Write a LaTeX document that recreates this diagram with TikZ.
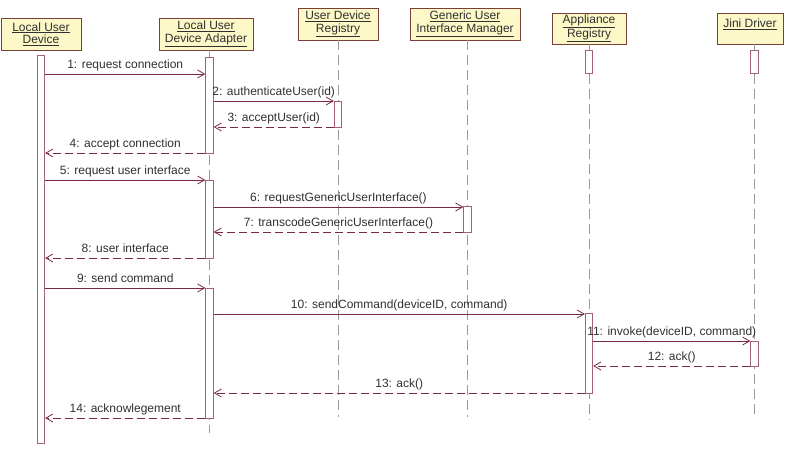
\documentclass[tikz,border=0pt]{standalone}
\usepackage{fontspec}
\setmainfont{Liberation Sans}
\usetikzlibrary{arrows.meta}
\definecolor{msgc}{HTML}{7A2848}
\definecolor{barc}{HTML}{A0607E}
\definecolor{headfill}{HTML}{FCF8C8}
\definecolor{headdraw}{HTML}{7A4038}
\definecolor{lifec}{HTML}{9A9A9A}
\definecolor{txtc}{HTML}{303030}
\tikzset{
  head/.style={draw=headdraw, fill=headfill, line width=0.8pt, inner sep=0pt, align=center,
    text=txtc, font=\fontsize{12}{12.5}\selectfont},
  actbar/.style={draw=barc, fill=white, line width=0.8pt, inner sep=0pt, minimum width=7.5pt},
  life/.style={draw=lifec, line width=0.9pt, dash pattern=on 10pt off 5pt},
  msg/.style={draw=msgc, line width=0.8pt, -{Straight Barb[length=7pt,width=8pt]}},
  ret/.style={msg, dash pattern=on 8pt off 4pt},
  lbl/.style={anchor=base, yshift=6pt, inner sep=0pt, text=txtc, font=\fontsize{12}{12.5}\selectfont}
}
\begin{document}
\begin{tikzpicture}[x=1pt,y=-1pt]
\useasboundingbox (0,0) rectangle (787,448);
% headers
\node[head, minimum width=80pt, minimum height=32pt] (hL) at (41,34) {\underline{Local User}\\\underline{Device}};
\node[head, minimum width=94pt, minimum height=32pt] (hA) at (206,34) {\underline{Local User}\\\underline{Device Adapter}};
\node[head, minimum width=80pt, minimum height=32pt] (hU) at (338,24) {\underline{User Device}\\\underline{Registry}};
\node[head, minimum width=110pt, minimum height=32pt] (hG) at (465,24) {\underline{Generic User}\\\underline{Interface Manager}};
\node[head, minimum width=74pt, minimum height=31pt] (hR) at (589,28.5) {\underline{Appliance}\\\underline{Registry}};
\node[head, minimum width=66pt, minimum height=31pt, text depth=0pt] (hJ) at (750,28.5) {\underline{Jini Driver}\\[-2pt]\strut};
% lifeline ends
\coordinate (eA) at (209.5,433);
\coordinate (eU) at (338,417);
\coordinate (eG) at (467.5,417);
\coordinate (eR) at (589,420);
\coordinate (eJ) at (754.5,417);
\draw[life] (hA.south -| eA) -- (eA);
\draw[life] (hU.south -| eU) -- (eU);
\draw[life] (hG.south -| eG) -- (eG);
\draw[life] (hR.south -| eR) -- (eR);
\draw[life] (hJ.south -| eJ) -- (eJ);
% activation bars
\node[actbar, minimum height=388pt] (L1) at (41,249) {};
\node[actbar, minimum height=96pt] (A1) at (209.5,105) {};
\node[actbar, minimum height=78pt] (A2) at (209.5,219) {};
\node[actbar, minimum height=130pt] (A3) at (209.5,353) {};
\node[actbar, minimum height=26pt] (U1) at (338,114) {};
\node[actbar, minimum height=26pt] (G1) at (467.5,219.5) {};
\node[actbar, minimum height=23pt] (R0) at (589,61.5) {};
\node[actbar, minimum height=80pt] (R1) at (589,353) {};
\node[actbar, minimum height=23pt] (J0) at (754.5,61.5) {};
\node[actbar, minimum height=25pt] (J1) at (754.5,353.5) {};
% message heights
\coordinate (y1) at (0,74);
\coordinate (y2) at (0,101);
\coordinate (y3) at (0,127);
\coordinate (y4) at (0,153);
\coordinate (y5) at (0,180);
\coordinate (y6) at (0,207);
\coordinate (y7) at (0,232);
\coordinate (y8) at (0,258);
\coordinate (y9) at (0,288);
\coordinate (y10) at (0,314);
\coordinate (y11) at (0,341);
\coordinate (y12) at (0,366);
\coordinate (y13) at (0,393);
\coordinate (y14) at (0,418);
% messages
\draw[msg] (L1.east |- y1) -- node[lbl]{1: request connection} (A1.west |- y1);
\draw[msg] (A1.east |- y2) -- node[lbl]{2: authenticateUser(id)} (U1.west |- y2);
\draw[ret] (U1.west |- y3) -- node[lbl]{3: acceptUser(id)} (A1.east |- y3);
\draw[ret] (A1.west |- y4) -- node[lbl]{4: accept connection} (L1.east |- y4);
\draw[msg] (L1.east |- y5) -- node[lbl]{5: request user interface} (A2.west |- y5);
\draw[msg] (A2.east |- y6) -- node[lbl]{6: requestGenericUserInterface()} (G1.west |- y6);
\draw[ret] (G1.west |- y7) -- node[lbl]{7: transcodeGenericUserInterface()} (A2.east |- y7);
\draw[ret] (A2.west |- y8) -- node[lbl]{8: user interface} (L1.east |- y8);
\draw[msg] (L1.east |- y9) -- node[lbl]{9: send command} (A3.west |- y9);
\draw[msg] (A3.east |- y10) -- node[lbl]{10: sendCommand(deviceID, command)} (R1.west |- y10);
\draw[msg] (R1.east |- y11) -- node[lbl]{11: invoke(deviceID, command)} (J1.west |- y11);
\draw[ret] (J1.west |- y12) -- node[lbl]{12: ack()} (R1.east |- y12);
\draw[ret] (R1.west |- y13) -- node[lbl]{13: ack()} (A3.east |- y13);
\draw[ret] (A3.west |- y14) -- node[lbl]{14: acknowlegement} (L1.east |- y14);
\end{tikzpicture}
\end{document}
